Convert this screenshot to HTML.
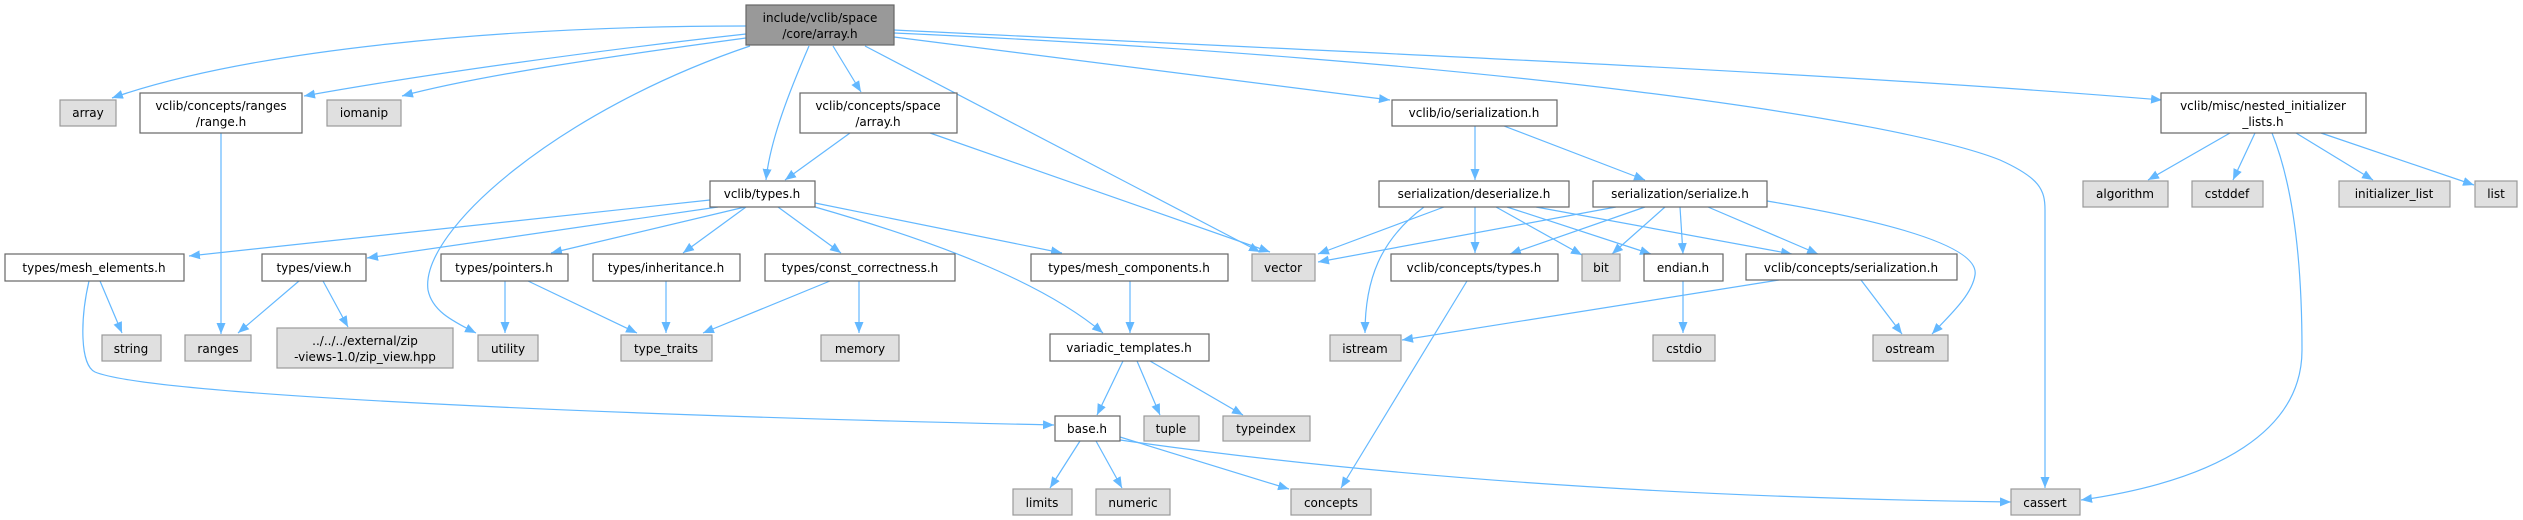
<!DOCTYPE html>
<html><head><meta charset="utf-8"><style>
html,body{margin:0;padding:0;background:#fff;}
svg{display:block;}
text{font-family:"DejaVu Sans","Liberation Sans",sans-serif;font-size:12px;fill:#000;text-anchor:middle;}
.e{fill:none;stroke:#63b8ff;stroke-width:1.2;marker-end:url(#a);}
.w{fill:#fff;stroke:#666;stroke-width:1.2;}
.g{fill:#e0e0e0;stroke:#999;stroke-width:1.2;}
.r{fill:#999;stroke:#666;stroke-width:1.2;}
</style></head><body>
<svg width="2523" height="520" viewBox="0 0 2523 520" xmlns="http://www.w3.org/2000/svg">
<defs><marker id="a" markerUnits="userSpaceOnUse" markerWidth="12" markerHeight="10" refX="11" refY="4.5" orient="auto"><path d="M0,0 L11,4.5 L0,9 z" fill="#63b8ff"/></marker></defs>
<!-- edges -->
<path class="e" d="M746,26 C500,26 250,50 112,98"/>
<path class="e" d="M746,34 C600,50 420,75 304,96"/>
<path class="e" d="M746,38 C620,55 480,75 402,96"/>
<path class="e" d="M750,46 C560,110 420,230 428,290 C432,310 450,320 476,333"/>
<path class="e" d="M809,46 C790,90 770,140 766,180"/>
<path class="e" d="M833,46 L861,92"/>
<path class="e" d="M865,46 L1260,252"/>
<path class="e" d="M894,37 L1390,100"/>
<path class="e" d="M894,30 C1300,50 1800,70 2162,100"/>
<path class="e" d="M894,33 C1500,60 1900,120 2000,160 C2040,178 2045,190 2045,210 L2045,488"/>
<path class="e" d="M850,133 L785,180"/>
<path class="e" d="M930,133 L1270,252"/>
<path class="e" d="M221,133 L221,334"/>
<path class="e" d="M710,200 L189,256"/>
<path class="e" d="M718,207 L367,258"/>
<path class="e" d="M745,207 L551,253"/>
<path class="e" d="M746,207 L683,253"/>
<path class="e" d="M778,207 L841,253"/>
<path class="e" d="M815,203 L1062,253"/>
<path class="e" d="M815,207 C930,240 1040,280 1103,333"/>
<path class="e" d="M100,281 L122,333"/>
<path class="e" d="M89,281 C80,320 80,365 95,372 C150,395 600,415 1054,425"/>
<path class="e" d="M299,281 L238,333"/>
<path class="e" d="M323,281 L348,327"/>
<path class="e" d="M505,281 L505,333"/>
<path class="e" d="M528,281 L637,333"/>
<path class="e" d="M666,281 L666,333"/>
<path class="e" d="M830,281 L703,333"/>
<path class="e" d="M859,281 L859,333"/>
<path class="e" d="M1130,281 L1130,333"/>
<path class="e" d="M1123,361 L1097,415"/>
<path class="e" d="M1137,361 L1160,415"/>
<path class="e" d="M1150,361 L1243,415"/>
<path class="e" d="M1080,441 L1050,488"/>
<path class="e" d="M1096,441 L1122,488"/>
<path class="e" d="M1120,437 L1289,489"/>
<path class="e" d="M1120,440 C1400,480 1700,498 2011,502"/>
<path class="e" d="M1475,126 L1475,180"/>
<path class="e" d="M1504,126 L1645,180"/>
<path class="e" d="M1444,207 L1318,254"/>
<path class="e" d="M1424,207 C1380,240 1365,280 1365,333"/>
<path class="e" d="M1475,207 L1475,253"/>
<path class="e" d="M1496,207 L1582,255"/>
<path class="e" d="M1507,207 L1651,254"/>
<path class="e" d="M1536,207 L1792,254"/>
<path class="e" d="M1616,207 L1318,262"/>
<path class="e" d="M1645,207 L1510,254"/>
<path class="e" d="M1665,207 L1612,254"/>
<path class="e" d="M1680,207 L1683,254"/>
<path class="e" d="M1708,207 L1818,254"/>
<path class="e" d="M1767,201 C1880,220 1980,245 1975,275 C1972,295 1950,315 1932,334"/>
<path class="e" d="M1467,281 L1341,488"/>
<path class="e" d="M1683,281 L1683,333"/>
<path class="e" d="M1779,280 L1402,340"/>
<path class="e" d="M1861,280 L1902,334"/>
<path class="e" d="M2230,133 L2148,180"/>
<path class="e" d="M2255,133 L2233,180"/>
<path class="e" d="M2272,133 C2295,190 2302,270 2302,350 C2302,430 2220,480 2081,500"/>
<path class="e" d="M2296,133 L2373,180"/>
<path class="e" d="M2321,133 L2474,185"/>
<!-- nodes -->
<rect class="r" x="746" y="5" width="148" height="40"/><text x="820" y="22">include/vclib/space</text><text x="820" y="38">/core/array.h</text>
<rect class="g" x="60" y="100" width="56" height="26"/><text x="88" y="117">array</text>
<rect class="w" x="140" y="93" width="162" height="40"/><text x="221" y="110">vclib/concepts/ranges</text><text x="221" y="126">/range.h</text>
<rect class="g" x="327" y="100" width="74" height="26"/><text x="364" y="117">iomanip</text>
<rect class="w" x="800" y="93" width="157" height="40"/><text x="878" y="110">vclib/concepts/space</text><text x="878" y="126">/array.h</text>
<rect class="w" x="1392" y="100" width="165" height="26"/><text x="1474" y="117">vclib/io/serialization.h</text>
<rect class="w" x="2161" y="93" width="205" height="40"/><text x="2263" y="110">vclib/misc/nested_initializer</text><text x="2263" y="126">_lists.h</text>
<rect class="w" x="710" y="181" width="105" height="26"/><text x="762" y="198">vclib/types.h</text>
<rect class="w" x="1379" y="181" width="190" height="26"/><text x="1474" y="198">serialization/deserialize.h</text>
<rect class="w" x="1593" y="181" width="174" height="26"/><text x="1680" y="198">serialization/serialize.h</text>
<rect class="g" x="2083" y="181" width="85" height="26"/><text x="2125" y="198">algorithm</text>
<rect class="g" x="2192" y="181" width="71" height="26"/><text x="2227" y="198">cstddef</text>
<rect class="g" x="2339" y="181" width="111" height="26"/><text x="2394" y="198">initializer_list</text>
<rect class="g" x="2475" y="181" width="42" height="26"/><text x="2496" y="198">list</text>
<rect class="w" x="5" y="254" width="179" height="27"/><text x="94" y="272">types/mesh_elements.h</text>
<rect class="w" x="262" y="254" width="104" height="27"/><text x="314" y="272">types/view.h</text>
<rect class="w" x="441" y="254" width="127" height="27"/><text x="504" y="272">types/pointers.h</text>
<rect class="w" x="593" y="254" width="147" height="27"/><text x="666" y="272">types/inheritance.h</text>
<rect class="w" x="765" y="254" width="190" height="27"/><text x="860" y="272">types/const_correctness.h</text>
<rect class="w" x="1031" y="254" width="197" height="27"/><text x="1129" y="272">types/mesh_components.h</text>
<rect class="g" x="1252" y="254" width="63" height="27"/><text x="1283" y="272">vector</text>
<rect class="w" x="1391" y="254" width="167" height="27"/><text x="1474" y="272">vclib/concepts/types.h</text>
<rect class="g" x="1582" y="254" width="38" height="27"/><text x="1601" y="272">bit</text>
<rect class="w" x="1644" y="254" width="79" height="27"/><text x="1683" y="272">endian.h</text>
<rect class="w" x="1746" y="254" width="211" height="26"/><text x="1851" y="272">vclib/concepts/serialization.h</text>
<rect class="g" x="102" y="335" width="59" height="26"/><text x="131" y="353">string</text>
<rect class="g" x="185" y="335" width="66" height="26"/><text x="218" y="353">ranges</text>
<rect class="g" x="277" y="328" width="176" height="40"/><text x="365" y="345">../../../external/zip</text><text x="365" y="361">-views-1.0/zip_view.hpp</text>
<rect class="g" x="478" y="335" width="60" height="26"/><text x="508" y="353">utility</text>
<rect class="g" x="621" y="335" width="91" height="26"/><text x="666" y="353">type_traits</text>
<rect class="g" x="821" y="335" width="78" height="26"/><text x="860" y="353">memory</text>
<rect class="w" x="1050" y="334" width="159" height="27"/><text x="1129" y="352">variadic_templates.h</text>
<rect class="g" x="1330" y="335" width="71" height="26"/><text x="1365" y="353">istream</text>
<rect class="g" x="1653" y="335" width="62" height="26"/><text x="1684" y="353">cstdio</text>
<rect class="g" x="1873" y="335" width="75" height="26"/><text x="1910" y="353">ostream</text>
<rect class="w" x="1055" y="416" width="65" height="25"/><text x="1087" y="433">base.h</text>
<rect class="g" x="1144" y="416" width="55" height="25"/><text x="1171" y="433">tuple</text>
<rect class="g" x="1223" y="416" width="87" height="25"/><text x="1266" y="433">typeindex</text>
<rect class="g" x="1013" y="489" width="59" height="26"/><text x="1042" y="507">limits</text>
<rect class="g" x="1096" y="489" width="74" height="26"/><text x="1133" y="507">numeric</text>
<rect class="g" x="1291" y="489" width="80" height="26"/><text x="1331" y="507">concepts</text>
<rect class="g" x="2011" y="489" width="69" height="26"/><text x="2045" y="507">cassert</text>
</svg>
</body></html>
